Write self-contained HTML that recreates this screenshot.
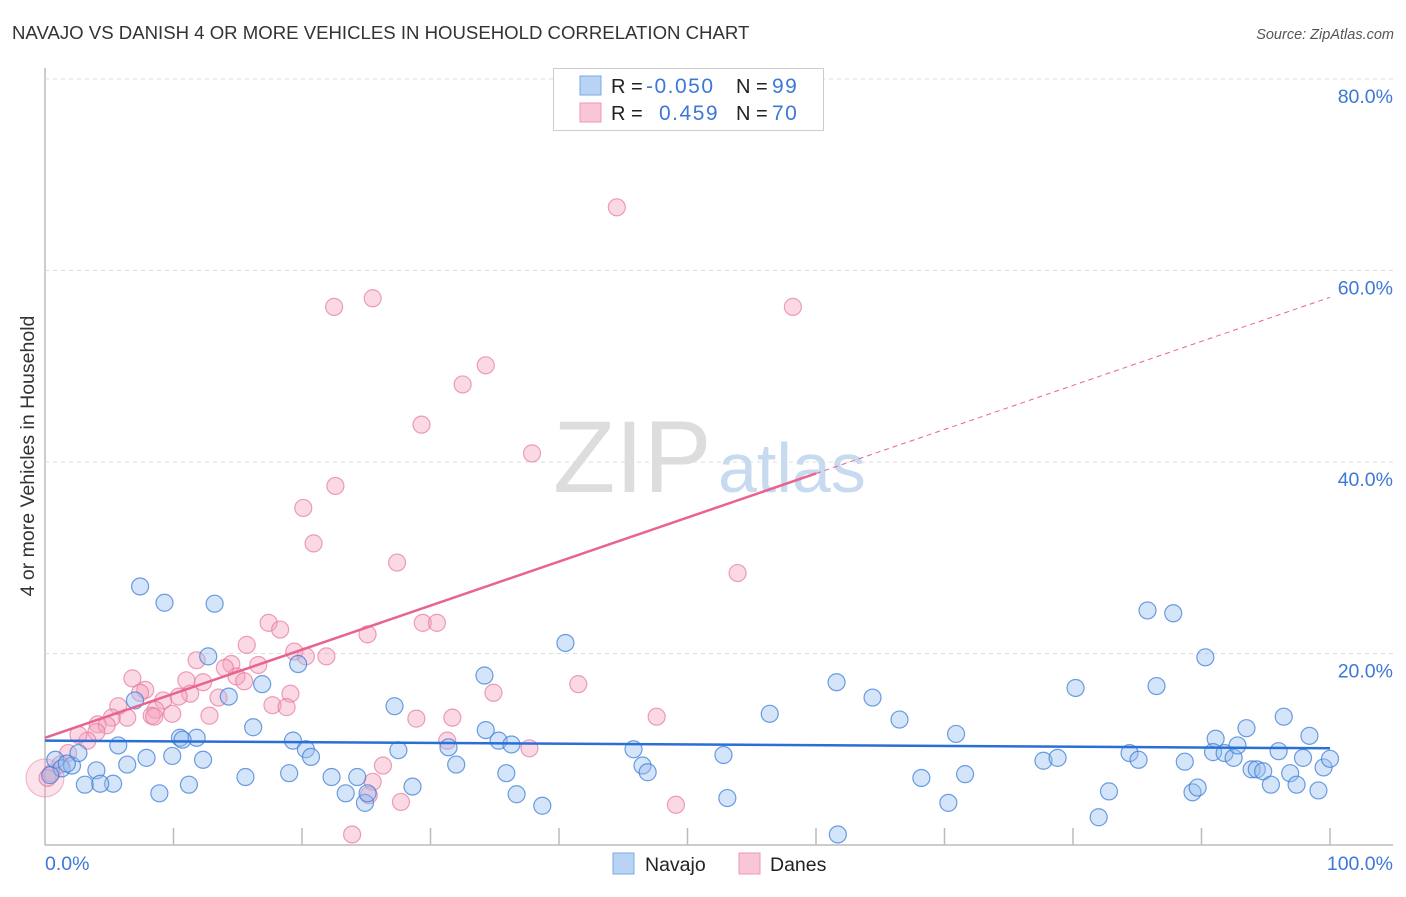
<!DOCTYPE html>
<html><head><meta charset="utf-8"><style>
body{margin:0;background:#fff;font-family:"Liberation Sans",sans-serif;}
svg text{font-family:"Liberation Sans",sans-serif;}
</style></head><body>
<svg id="chart" width="1406" height="892" xmlns="http://www.w3.org/2000/svg">
<text x="12" y="39" font-size="18.6" fill="#333">NAVAJO VS DANISH 4 OR MORE VEHICLES IN HOUSEHOLD CORRELATION CHART</text>
<text x="1394" y="39" font-size="14.5" fill="#555" font-style="italic" text-anchor="end">Source: ZipAtlas.com</text>
<text x="34" y="456" font-size="19.5" fill="#333" text-anchor="middle" transform="rotate(-90 34 456)">4 or more Vehicles in Household</text>
<g id="grid"></g>
<text x="553" y="492" font-size="102" fill="#ddd" font-family="Liberation Serif">ZIP</text>
<text x="718" y="492" font-size="70" fill="#c8daf0">atlas</text>
<g id="marks"></g>
<g id="lines"></g>
<rect x="553.5" y="68.5" width="270" height="62" fill="#fff" stroke="#ccc"/>
<rect x="580" y="76" width="21" height="19" fill="#b9d3f5" stroke="#7aa8e6"/>
<rect x="580" y="103" width="21" height="19" fill="#f8c6d6" stroke="#ee9ab4"/>
<text x="611" y="93" font-size="20" fill="#222">R = <tspan x="646" fill="#3b78d8" font-size="21" letter-spacing="1.5">-0.050</tspan></text>
<text x="736" y="93" font-size="20" fill="#222">N = <tspan x="772" fill="#3b78d8" font-size="21" letter-spacing="1.5">99</tspan></text>
<text x="611" y="120" font-size="20" fill="#222">R = <tspan fill="#3b78d8" x="659" font-size="21" letter-spacing="1.5">0.459</tspan></text>
<text x="736" y="120" font-size="20" fill="#222">N = <tspan x="772" fill="#3b78d8" font-size="21" letter-spacing="1.5">70</tspan></text>
<rect x="613" y="853" width="21" height="21" fill="#b9d3f5" stroke="#7aa8e6"/>
<text x="645" y="871" font-size="19.5" fill="#222">Navajo</text>
<rect x="739" y="853" width="21" height="21" fill="#f8c6d6" stroke="#ee9ab4"/>
<text x="770" y="871" font-size="19.5" fill="#222">Danes</text>
</svg>
<script>
const navX=[7.4,9.3,13.2,12.7,14.3,16.9,16.2,19.7,5.7,7.0,10.5,11.8,10.7,7.9,9.9,12.3,6.4,4.0,3.1,5.3,4.3,8.9,11.2,15.6,19.0,19.3,20.3,20.7,22.3,23.4,24.3,24.9,25.1,27.5,28.6,27.2,31.4,32.0,34.2,34.3,35.3,36.3,35.9,36.7,38.7,40.5,45.8,46.5,46.9,52.8,53.1,56.4,61.6,61.7,64.4,66.5,68.2,70.3,70.9,71.6,77.7,78.8,80.2,82.0,82.8,84.4,85.1,85.8,86.5,87.8,88.7,89.3,89.7,90.3,91.1,90.9,91.8,92.5,92.8,93.5,93.9,94.3,94.8,95.4,96.0,96.4,96.9,97.4,97.9,98.4,99.1,99.5,100,0.8,1.3,2.1,2.6,0.4,1.7];
const navY=[27.0,25.3,25.2,19.7,15.5,16.8,12.3,18.9,10.4,15.1,11.2,11.2,11.0,9.1,9.3,8.9,8.4,7.8,6.3,6.4,6.4,5.4,6.3,7.1,7.5,10.9,10.0,9.2,7.1,5.4,7.1,4.4,5.4,9.9,6.1,14.5,10.2,8.4,17.7,12.0,10.9,10.5,7.5,5.3,4.1,21.1,10.0,8.3,7.6,9.4,4.9,13.7,17.0,1.1,15.4,13.1,7.0,4.4,11.6,7.4,8.8,9.1,16.4,2.9,5.6,9.6,8.9,24.5,16.6,24.2,8.7,5.5,6.0,19.6,11.1,9.7,9.6,9.1,10.4,12.2,7.9,7.9,7.7,6.3,9.8,13.4,7.5,6.3,9.1,11.4,5.7,8.1,9.0,8.9,8.0,8.3,9.6,7.3,8.5];
const danX=[44.5,22.5,25.5,58.2,34.3,32.5,29.3,37.9,22.6,20.1,20.9,27.4,53.9,25.1,17.4,18.3,15.7,14.5,11.8,16.6,19.4,20.3,21.9,14.9,15.5,11.0,12.3,13.5,11.3,10.4,9.2,8.6,6.8,7.8,5.7,5.2,6.4,4.1,4.8,4.0,8.3,9.9,8.5,12.8,19.1,17.7,18.8,28.9,31.7,29.4,30.5,34.9,41.5,47.6,31.3,37.7,25.5,26.3,27.7,23.9,49.1,3.3,2.6,1.8,1.2,0.5,0.2,7.4,25.2,14.0];
const danY=[66.6,56.2,57.1,56.2,50.1,48.1,43.9,40.9,37.5,35.2,31.5,29.5,28.4,22.0,23.2,22.5,20.9,18.9,19.3,18.8,20.2,19.7,19.7,17.6,17.1,17.2,17.0,15.4,15.8,15.5,15.1,14.1,17.4,16.2,14.5,13.3,13.3,12.6,12.5,11.8,13.5,13.7,13.4,13.5,15.8,14.6,14.4,13.2,13.3,23.2,23.2,15.9,16.8,13.4,10.9,10.1,6.6,8.3,4.5,1.1,4.2,10.9,11.5,9.6,8.4,7.5,7.0,15.9,5.2,18.5];
const navTrend=[10.9,10.1];
const danTrend=[11.2,57.2];
const danSolidEnd=[60];
const yTicks=[20,40,60,80];
const yTickLabels=["20.0%","40.0%","60.0%","80.0%"];
const xTicks=[10,20,30,40,50,60,70,80,90,100];

const X0=45,X1=1330,Y0=845,Y80=79;
const sx=v=>X0+(X1-X0)*v/100;
const sy=v=>Y0-(Y0-Y80)*v/80;
const NS="http://www.w3.org/2000/svg";
function mk(tag,attrs,parent){const e=document.createElementNS(NS,tag);for(const k in attrs)e.setAttribute(k,attrs[k]);parent.appendChild(e);return e;}
const grid=document.getElementById('grid'),marks=document.getElementById('marks'),lines=document.getElementById('lines');

let ax=mk('line',{x1:X0,y1:68,x2:X0,y2:Y0,stroke:'#bbb','stroke-width':1.5},grid);


let bx=mk('line',{x1:X0,y1:Y0,x2:1393,y2:Y0,stroke:'#bbb','stroke-width':1.5},grid);


yTicks.forEach((t,i)=>{
  const g=mk('line',{x1:X0,y1:sy(t),x2:1393,y2:sy(t),stroke:'#ddd','stroke-dasharray':'4 4'},grid);
  
  
  const l=mk('text',{x:1393,y:sy(t)+24,'font-size':19.5,fill:'#3b78d8','text-anchor':'end'},grid);
  l.textContent=yTickLabels[i];
  
  
});
xTicks.forEach(t=>{
  const k=mk('line',{x1:sx(t),y1:828,x2:sx(t),y2:Y0,stroke:'#bbb','stroke-width':1.5},grid);
  
  
});
let xl0=mk('text',{x:45,y:870,'font-size':19.5,fill:'#3b78d8'},grid);xl0.textContent='0.0%';


let xl1=mk('text',{x:1393,y:870,'font-size':19.5,fill:'#3b78d8','text-anchor':'end'},grid);xl1.textContent='100.0%';



let big=mk('circle',{cx:sx(0),cy:sy(7.0),r:19,fill:'rgba(244,160,188,0.3)',stroke:'rgba(230,120,155,0.55)'},marks);


danX.forEach((x,i)=>{
  const c=mk('circle',{cx:sx(x),cy:sy(danY[i]),r:8.5,fill:'rgba(244,160,188,0.4)',stroke:'rgba(230,120,155,0.7)','stroke-width':1.2},marks);
  
  
});
navX.forEach((x,i)=>{
  const c=mk('circle',{cx:sx(x),cy:sy(navY[i]),r:8.5,fill:'rgba(150,190,240,0.4)',stroke:'rgba(60,125,215,0.75)','stroke-width':1.2},marks);
  
  
});
const dAt=x=>danTrend[0]+(danTrend[1]-danTrend[0])*x/100;
let nl=mk('line',{x1:sx(0),y1:sy(navTrend[0]),x2:sx(100),y2:sy(navTrend[1]),stroke:'#2a6fd6','stroke-width':2.5},lines);


let dl=mk('line',{x1:sx(0),y1:sy(dAt(0)),x2:sx(danSolidEnd[0]),y2:sy(dAt(danSolidEnd[0])),stroke:'#e8648e','stroke-width':2.5},lines);


let dd=mk('line',{x1:sx(danSolidEnd[0]),y1:sy(dAt(danSolidEnd[0])),x2:sx(100),y2:sy(dAt(100)),stroke:'#e8648e','stroke-width':1,'stroke-dasharray':'5 4'},lines);


</script>
</body></html>
